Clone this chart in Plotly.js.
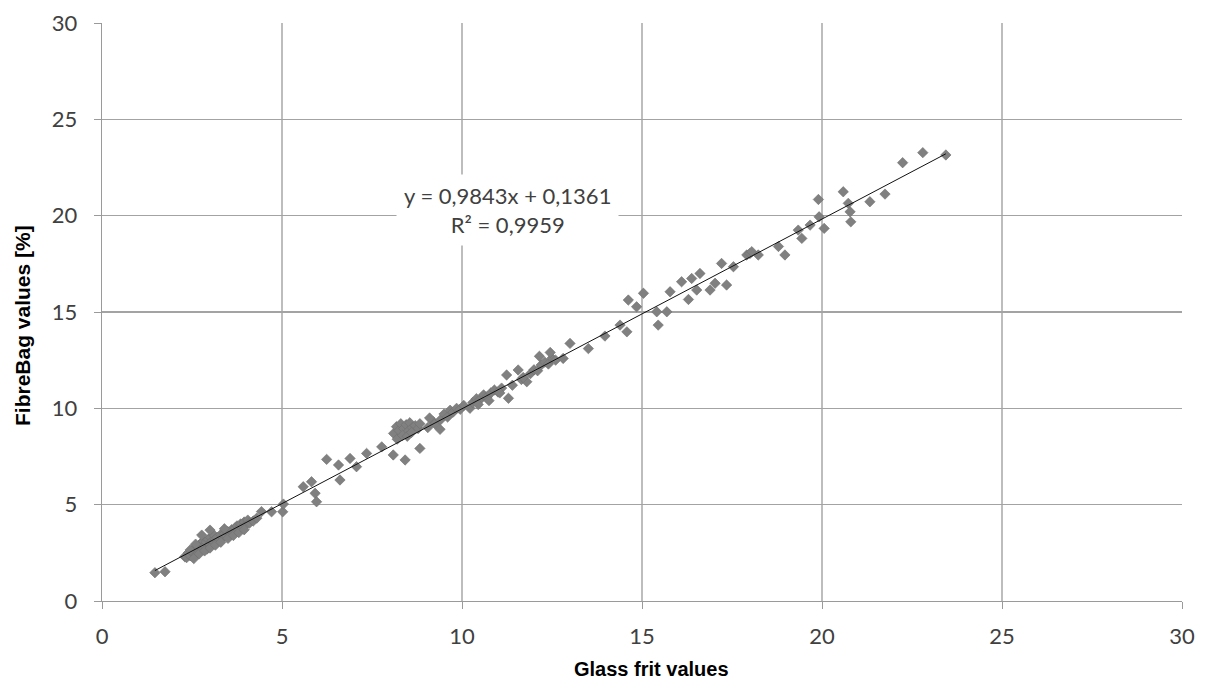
<!DOCTYPE html>
<html>
<head>
<meta charset="utf-8">
<script src="https://cdn.plot.ly/plotly-3.0.1.min.js"></script>
<style>html,body{margin:0;padding:0;background:#fff;}#chart{width:1205px;height:682px;}</style>
</head>
<body>
<div id="chart"></div>
<script>
// Measured points: Glass frit values (x) vs FibreBag values (y)
var glassFrit = [
  1.47,1.75,
  2.30,2.35,2.40,2.45,2.50,2.55,2.60,2.62,2.65,2.70,2.72,2.75,2.80,2.82,2.85,2.90,2.92,2.95,3.00,3.02,3.05,3.10,3.12,3.15,3.20,3.25,3.30,3.35,3.40,3.45,3.50,3.55,3.60,3.65,3.70,3.72,3.75,3.80,3.85,3.90,3.95,4.00,4.05,4.10,4.20,4.30,
  2.55,2.70,2.85,3.00,3.15,3.30,3.50,3.65,3.80,3.95,2.77,3.00,2.45,2.60,3.40,
  4.43,4.71,5.02,5.04,5.59,5.82,5.92,5.96,6.24,6.57,6.61,6.89,7.07,7.35,7.77,8.09,8.42,
  8.10,8.18,8.25,8.30,8.38,8.45,8.50,8.55,8.62,8.70,8.78,8.83,8.20,8.35,8.48,8.60,8.83,9.05,9.20,9.39,
  9.10,9.25,9.40,9.50,9.60,9.67,9.75,9.85,9.95,10.05,10.22,
  10.30,10.40,10.50,10.60,10.70,10.80,10.90,11.00,11.10,11.24,11.29,11.40,11.56,11.65,11.80,11.90,12.00,12.10,12.20,12.30,12.40,12.50,12.60,12.81,13.00,10.45,10.75,11.05,11.70,12.15,12.45,
  13.51,13.97,14.39,14.58,14.62,14.85,15.04,15.41,15.45,15.69,15.78,16.10,16.29,16.38,16.52,16.61,16.89,17.03,17.21,17.35,17.54,17.91,18.00,18.05,18.23,
  18.79,18.97,19.34,19.44,19.67,19.90,19.92,20.06,20.59,20.73,20.78,20.80,21.33,21.75,22.24,22.80,23.44
];
var fibreBag = [
  1.47,1.52,
  2.30,2.25,2.50,2.35,2.60,2.45,2.80,2.40,2.70,2.90,2.55,3.00,2.75,3.10,2.85,3.05,2.70,3.20,2.95,3.30,3.10,3.05,3.40,3.20,3.30,3.15,3.45,3.30,3.50,3.40,3.60,3.55,3.70,3.50,3.80,3.60,3.90,3.75,4.00,3.85,4.10,3.95,4.20,4.05,4.15,4.30,
  2.20,2.45,2.60,2.75,2.90,3.05,3.25,3.40,3.55,3.70,3.42,3.68,2.65,2.95,3.75,
  4.64,4.63,4.63,5.03,5.93,6.19,5.59,5.15,7.35,7.06,6.28,7.40,6.97,7.66,8.00,7.58,7.32,
  8.70,9.05,8.85,9.20,8.95,9.15,8.80,9.25,9.00,9.10,8.95,9.20,8.40,8.60,8.55,8.75,7.92,9.00,9.30,8.91,
  9.50,9.20,9.40,9.70,9.55,9.90,9.80,10.00,9.95,10.15,10.00,
  10.30,10.50,10.45,10.70,10.60,10.80,10.95,10.85,11.05,11.73,10.52,11.20,11.99,11.50,11.38,11.80,12.00,11.95,12.25,12.40,12.30,12.60,12.50,12.59,13.37,10.20,10.40,10.80,11.60,12.70,12.90,
  13.10,13.75,14.32,13.97,15.62,15.27,15.97,15.01,14.32,15.01,16.05,16.57,15.65,16.74,16.14,17.00,16.14,16.49,17.52,16.40,17.35,17.96,18.04,18.13,17.96,
  18.40,17.96,19.25,18.82,19.51,20.84,19.94,19.34,21.24,20.64,20.20,19.68,20.72,21.12,22.75,23.27,23.15
];
// Linear trend line as drawn in the chart
var trendX = [1.47, 23.44];
var trendY = [1.58, 23.21];
var equationText = "y = 0,9843x + 0,1361<br>R² = 0,9959";
var xTitle = "Glass frit values";
var yTitle = "FibreBag values [%]";

var traces = [
  {
    x: glassFrit, y: fibreBag, type: 'scatter', mode: 'markers',
    marker: {symbol: 'diamond', size: 8, color: '#808080', line: {color: '#6e6e6e', width: 0.6}},
    hoverinfo: 'x+y', showlegend: false
  },
  {
    x: trendX, y: trendY, type: 'scatter', mode: 'lines',
    line: {color: '#111111', width: 1}, showlegend: false, hoverinfo: 'skip'
  }
];

var tickFont = {family: 'Lato, "Open Sans", sans-serif', size: 22, color: '#404040'};

var layout = {
  width: 1205, height: 682,
  margin: {l: 102, r: 23, t: 23, b: 81, pad: 0},
  paper_bgcolor: '#ffffff', plot_bgcolor: '#ffffff',
  xaxis: {
    range: [0, 30], tick0: 0, dtick: 5, tickmode: 'linear',
    showgrid: true, gridcolor: '#bdbdbd', gridwidth: 1.3,
    zeroline: false, showline: true, linecolor: '#9a9a9a', linewidth: 1.3,
    ticks: 'outside', ticklen: 7, tickcolor: '#9a9a9a',
    tickfont: tickFont, ticklabelstandoff: 8,
    fixedrange: true
  },
  yaxis: {
    range: [0, 30], tick0: 0, dtick: 5, tickmode: 'linear',
    showgrid: true, gridcolor: '#a3a3a3', gridwidth: 1.3,
    zeroline: false, showline: true, linecolor: '#9a9a9a', linewidth: 1.3,
    ticks: 'outside', ticklen: 7, tickcolor: '#9a9a9a',
    tickfont: tickFont, ticklabelstandoff: 12,
    fixedrange: true
  },
  annotations: [
    {
      x: 0.375, y: 0.676, xref: 'paper', yref: 'paper',
      text: equationText, showarrow: false,
      font: {family: 'Lato, "Open Sans", sans-serif', size: 22, color: '#404040'},
      bgcolor: '#ffffff', borderpad: 7, align: 'center',
      xanchor: 'center', yanchor: 'middle'
    },
    {
      x: 0.509, y: -0.117, xref: 'paper', yref: 'paper',
      text: '<b>' + xTitle + '</b>', showarrow: false,
      font: {family: 'Arial, "Liberation Sans", sans-serif', size: 20, color: '#000000'},
      xanchor: 'center', yanchor: 'middle'
    },
    {
      x: -0.073, y: 0.476, xref: 'paper', yref: 'paper',
      text: '<b>' + yTitle + '</b>', showarrow: false, textangle: -90,
      font: {family: 'Arial, "Liberation Sans", sans-serif', size: 21, color: '#000000'},
      xanchor: 'center', yanchor: 'middle'
    }
  ]
};

Plotly.newPlot('chart', traces, layout, {displayModeBar: false, staticPlot: true});
</script>
</body>
</html>
